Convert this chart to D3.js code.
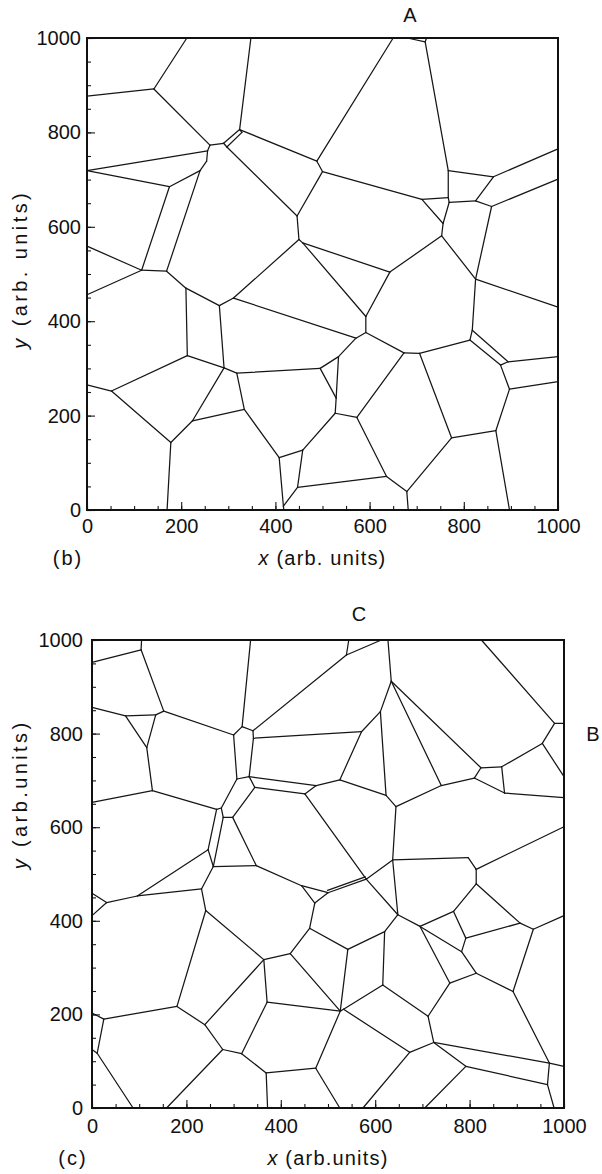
<!DOCTYPE html>
<html>
<head>
<meta charset="utf-8">
<script src="https://cdn.jsdelivr.net/npm/d3@7"></script>
<style>
  html, body { margin: 0; padding: 0; background: #fff; }
  svg { display: block; }
  text { font-family: "Liberation Sans", Arial, Helvetica, sans-serif; fill: #111; }
</style>
</head>
<body>
<svg id="fig" width="602" height="1174"></svg>
<script>
// ---- Panel (b): grain-boundary junctions (x, y in arb. units) ----
const junctionsB = [
  ["t1",212,1000],["t2",348,1000],["t3",650,1000],["t4",680,1000],["t5",721,1000],
  ["l1",0,877],["l2",0,719],["l3",0,559],["l4",0,456],["l5",0,265],
  ["r1",1000,765],["r2",1000,701],["r3",1000,430],["r4",1000,325],["r5",1000,272],
  ["b1",170,0],["b2",418,0],["b3",682,0],["b4",897,0],
  ["v1",142,892],["v2",261,773],["sa",290,777],["sb",297,769],["v4",256,761],["v4b",254,739],
  ["v8",240,719],["v5",175,685],["v6",324,806],["v6b",329,800],
  ["v7",488,739],["v9",500,717],["v10",446,623],["v11",450,573],["v11b",458,566],
  ["v12",767,719],["v13",863,706],["v14",825,655],["v15",767,662],["v16",769,652],["v17",859,643],
  ["v18",711,658],["v19",756,607],["v20",753,581],["vt",718,992],
  ["v21",116,508],["v22",169,506],["v23",210,470],["v24",281,433],["v25",311,449],["v26",213,327],
  ["v27",52,252],["v28",178,143],["v29",291,301],["v30",318,290],["v31",224,189],["v32",334,213],
  ["v33",495,300],["v37",534,325],["v38",527,205],["v38b",529,237],["v34",458,127],["v35",408,111],
  ["v36",447,48],["j",417,8],
  ["v39",643,504],["v40",592,410],["v41",592,376],["v42",571,364],["v43",673,333],["v44",706,332],
  ["v45",573,196],["v48",636,71],["v49",679,39],["v50",774,153],["v51",868,168],["v52",897,256],
  ["v53",878,307],["v56",894,314],["v54",813,360],["v55",818,381],["v57",825,489]
];
const boundariesB = [
  ["t1","v1"],["v1","l1"],["v1","v2"],["v2","sa"],["v2","v4"],["l2","v4"],["v4","v4b"],["v4b","v8"],
  ["v8","v5"],["l2","v5"],["sa","sb"],["sa","v6"],["sb","v6b"],["v6b","v6"],["t2","v6"],["v6","v7"],
  ["sb","v10"],["v7","t3"],["v7","v9"],["v9","v10"],["v10","v11"],["v11","v11b"],["v11","v25"],
  ["v11b","v39"],["v11b","v40"],["v9","v18"],["v18","v15"],["v15","v12"],["v12","vt"],["vt","t4"],
  ["vt","t5"],["v12","v13"],["v13","r1"],["v13","v14"],["v15","v16"],["v16","v14"],["v16","v19"],
  ["v18","v19"],["v19","v20"],["v14","v17"],["v17","r2"],["v17","v57"],["v20","v39"],["v20","v57"],
  ["v57","r3"],["v57","v55"],["v55","v56"],["v54","v53"],["v55","v54"],["v56","v53"],["v56","r4"],
  ["v53","v52"],["v52","r5"],["v52","v51"],["v51","b4"],["v51","v50"],["v50","v49"],["v50","v44"],
  ["v44","v54"],["v44","v43"],["v43","v41"],["v43","v45"],["v41","v40"],["v41","v42"],["v40","v39"],
  ["v25","v42"],["v37","v42"],["v33","v37"],["v37","v38b"],["v38b","v38"],["v33","v38b"],["v38","v45"],
  ["v38","v34"],["v34","v35"],["v34","v36"],["v35","j"],["v36","j"],["j","b2"],["v36","v48"],
  ["v48","v45"],["v48","v49"],["v49","b3"],["v32","v35"],["v30","v32"],["v31","v32"],["v29","v31"],
  ["v29","v30"],["v30","v33"],["v24","v29"],["v26","v29"],["v23","v26"],["v26","v27"],["v27","l5"],
  ["v27","v28"],["v28","b1"],["v31","v28"],["v23","v24"],["v24","v25"],["v22","v23"],["v21","v22"],
  ["v5","v21"],["v8","v22"],["l3","v21"],["v21","l4"]
];

// ---- Panel (c): grain-boundary junctions (x, y in arb. units) ----
const junctionsC = [
  ["t1",105,1000],["t2",336,1000],["t3",544,1000],["t4",613,1000],["t5",627,1000],["t6",825,1000],
  ["l1",0,952],["l2",0,856],["l3",0,653],["l4",0,459],["l5",0,411],["l6",0,203],["l7",0,125],
  ["r1",1000,822],["r2",1000,708],["r3",1000,663],["r4",1000,601],["r5",1000,411],["r6",1000,89],
  ["b1",87,0],["b2",158,0],["b3",372,0],["b4",525,0],["b5",574,0],["b6",705,0],["b7",979,0],
  ["c1",104,979],["c2",152,848],["c3",71,838],["c4",135,840],["c5",116,770],["c6",128,678],
  ["c7",264,638],["c8",300,797],["c9",318,815],["c10",341,806],["c10b",342,790],["c11",539,968],
  ["c12",333,708],["c13",307,703],["c14",345,685],["c15",274,641],["c16a",278,621],["c16",298,621],
  ["c17",451,671],["s1",475,689],["c18",246,552],["c19",257,516],["c20",348,518],
  ["c21",232,468],["c22",31,439],["c23",96,453],["c24",241,422],["c25",180,217],["c26",364,317],
  ["c27",239,178],["c28",25,190],["c29",11,117],["c30",277,125],["c31",317,116],["c32",371,226],
  ["c33",369,75],["c34",474,85],["c35",526,207],["c35b",533,211],["c36",420,330],["c37",461,384],
  ["c38",472,438],["c39",444,475],["c40",500,460],["c40s",499,465],["c41",581,489],["c41s",579,494],
  ["c42",648,413],["c44",620,377],["c45",695,388],["c46",616,263],["c47",542,339],["c50",712,196],
  ["c51",758,267],["c52",814,288],["c53",783,334],["c54",792,363],["c55",766,420],["c56",907,395],
  ["c57",814,479],["c58",935,382],["c59",892,249],["c60",969,96],["c62",965,50],["c63",792,89],
  ["c64",724,140],["c65",673,119],["c67",814,510],["c69",634,912],["c70",611,847],["c71",571,804],
  ["c72",525,701],["c73",623,668],["c74",740,689],["c75",824,727],["c76",868,729],["c77",810,705],
  ["c78",874,673],["c79",954,779],["c80",980,822],["c81",644,644],["c82",797,535],["c83",637,530]
];
const boundariesC = [
  ["t1","c1"],["c1","l1"],["c1","c2"],["l2","c3"],["c3","c4"],["c4","c2"],["c3","c5"],["c4","c5"],
  ["c5","c6"],["c6","l3"],["c6","c7"],["c2","c8"],["c8","c9"],["c9","t2"],["c9","c10"],["c10","c11"],
  ["c11","t3"],["c11","t4"],["c10","c10b"],["c10b","c12"],["c8","c13"],["c13","c12"],["c12","c14"],
  ["c12","s1"],["s1","c72"],["c14","c17"],["c17","s1"],["c13","c15"],["c14","c16"],["c15","c7"],
  ["c15","c16a"],["c16a","c16"],["c7","c18"],["c18","c19"],["c16a","c19"],["c16","c20"],["c19","c20"],
  ["c17","c41"],["c20","c39"],["c18","c23"],["c19","c21"],["c22","c23"],["c23","c21"],["c22","l4"],
  ["c22","l5"],["c21","c24"],["c24","c25"],["c24","c26"],["c25","c27"],["c25","c28"],["c28","l6"],
  ["c28","c29"],["c29","l7"],["c29","b1"],["c27","c30"],["c27","c26"],["c30","b2"],["c30","c31"],
  ["c31","c32"],["c31","c33"],["c33","b3"],["c33","c34"],["c34","b4"],["c34","c35"],["c32","c35"],
  ["c32","c26"],["c26","c36"],["c36","c37"],["c36","c35"],["c37","c38"],["c37","c47"],["c38","c39"],
  ["c38","c40"],["c39","c40"],["c40","c41"],["c40s","c41s"],["c41","c83"],["c41","c42"],["c42","c83"],
  ["c42","c44"],["c42","c45"],["c44","c47"],["c44","c46"],["c47","c35"],["c35","c35b"],["c46","c35b"],
  ["c65","c35b"],["c46","c50"],["c50","c51"],["c50","c64"],["c51","c45"],["c51","c52"],["c45","c53"],
  ["c45","c55"],["c52","c53"],["c53","c54"],["c54","c55"],["c54","c56"],["c55","c57"],["c57","c56"],
  ["c56","c58"],["c58","r5"],["c58","c59"],["c52","c59"],["c59","c60"],["c60","r6"],["c60","c62"],
  ["c62","b7"],["c62","c63"],["c63","b6"],["c63","c64"],["c64","c60"],["c64","c65"],["c65","b5"],
  ["c57","c67"],["c67","c82"],["c67","r4"],["c82","c83"],["c83","c81"],["c81","c73"],["c81","c74"],
  ["c73","c70"],["c73","c72"],["c72","c71"],["c71","c70"],["c71","c10b"],["c70","c69"],["c69","t5"],
  ["c69","c74"],["c69","c75"],["c75","c76"],["c75","c77"],["c77","c74"],["c77","c78"],["c76","c78"],
  ["c78","r3"],["c76","c79"],["c79","r2"],["c79","c80"],["c80","r1"],["c80","t6"]
];

// ---- Axis ticks ----
const majorTicks = [0, 200, 400, 600, 800, 1000];
const minorTicks = d3.range(0, 1001, 50);

const svg = d3.select("#fig");

function drawPanel(cfg) {
  const x = d3.scaleLinear().domain([0, 1000]).range([cfg.left, cfg.right]);
  const y = d3.scaleLinear().domain([0, 1000]).range([cfg.bottom, cfg.top]);
  const g = svg.append("g");

  // grain boundaries
  const pts = new Map(cfg.nodes.map(d => [d[0], d]));
  g.append("g")
    .selectAll("line")
    .data(cfg.edges)
    .join("line")
    .attr("x1", d => x(pts.get(d[0])[1]))
    .attr("y1", d => y(pts.get(d[0])[2]))
    .attr("x2", d => x(pts.get(d[1])[1]))
    .attr("y2", d => y(pts.get(d[1])[2]))
    .attr("stroke", "#161616")
    .attr("stroke-width", 1.25)
    .attr("stroke-linecap", "round");

  // minor ticks (inward, unlabeled)
  const minorX = d3.axisBottom(x).tickValues(minorTicks).tickSize(-4).tickFormat("");
  const minorY = d3.axisLeft(y).tickValues(minorTicks).tickSize(-4).tickFormat("");
  g.append("g").attr("transform", `translate(0,${cfg.bottom})`).call(minorX).call(s => s.select(".domain").remove());
  g.append("g").attr("transform", `translate(${cfg.left},0)`).call(minorY).call(s => s.select(".domain").remove());

  // major ticks with labels
  const majorX = d3.axisBottom(x).tickValues(majorTicks).tickSize(-8).tickPadding(cfg.padX).tickFormat(d3.format("d"));
  const majorY = d3.axisLeft(y).tickValues(majorTicks).tickSize(-8).tickPadding(cfg.padY).tickFormat(d3.format("d"));
  [
    g.append("g").attr("transform", `translate(0,${cfg.bottom})`).call(majorX),
    g.append("g").attr("transform", `translate(${cfg.left},0)`).call(majorY)
  ].forEach(ax => {
    ax.select(".domain").remove();
    ax.selectAll("text").attr("font-size", 20).attr("fill", "#111")
      .style("font-family", '"Liberation Sans", Arial, sans-serif');
  });
  g.selectAll(".tick line").attr("stroke", "#161616").attr("stroke-width", 1.1);

  // frame
  g.append("rect")
    .attr("x", cfg.left).attr("y", cfg.top)
    .attr("width", cfg.right - cfg.left).attr("height", cfg.bottom - cfg.top)
    .attr("fill", "none").attr("stroke", "#111").attr("stroke-width", 2);

  // axis titles
  const xt = g.append("text")
    .attr("x", (cfg.left + cfg.right) / 2).attr("y", cfg.bottom + cfg.titleDy)
    .attr("text-anchor", "middle").attr("font-size", 20).attr("letter-spacing", 1.2);
  xt.append("tspan").attr("font-style", "italic").text("x");
  xt.append("tspan").text(cfg.unitText);

  const yt = g.append("text")
    .attr("transform", `translate(${cfg.yTitleX},${y(cfg.yTitleAt)}) rotate(-90)`)
    .attr("text-anchor", "middle").attr("dy", "0.35em").attr("font-size", 20).attr("letter-spacing", 3.4);
  yt.append("tspan").attr("font-style", "italic").text("y");
  yt.append("tspan").text(cfg.unitText);

  g.append("text")
    .attr("x", cfg.tagX).attr("y", cfg.bottom + cfg.titleDy)
    .attr("text-anchor", "middle").attr("font-size", 20).attr("letter-spacing", 2)
    .text(cfg.tag);
}

drawPanel({
  nodes: junctionsB, edges: boundariesB,
  left: 87, right: 558, top: 38, bottom: 510,
  padX: 9, padY: 6, titleDy: 55, yTitleX: 20, yTitleAt: 510,
  unitText: " (arb. units)", tag: "(b)", tagX: 68
});

drawPanel({
  nodes: junctionsC, edges: boundariesC,
  left: 92, right: 564, top: 640, bottom: 1108,
  padX: 11, padY: 9, titleDy: 57, yTitleX: 20, yTitleAt: 670,
  unitText: " (arb.units)", tag: "(c)", tagX: 73
});

// grain labels
const grainLabels = [
  { text: "A", x: 410, y: 22 },
  { text: "C", x: 359, y: 621 },
  { text: "B", x: 593, y: 741 }
];
svg.append("g").selectAll("text")
  .data(grainLabels)
  .join("text")
  .attr("x", d => d.x).attr("y", d => d.y)
  .attr("text-anchor", "middle").attr("font-size", 20)
  .text(d => d.text);
</script>
</body>
</html>
